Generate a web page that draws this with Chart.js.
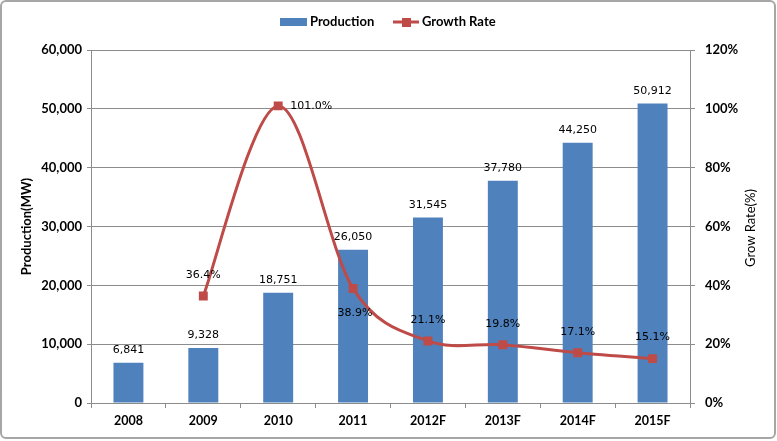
<!DOCTYPE html>
<html>
<head>
<meta charset="utf-8">
<script src="https://cdn.jsdelivr.net/npm/chart.js@4"></script>
<style>
  html,body{margin:0;padding:0;background:#fff;}
  #wrap{width:777px;height:441px;position:relative;}
</style>
</head>
<body>
<div id="wrap"><canvas id="c" width="777" height="441"></canvas></div>
<script>
const categories = ['2008','2009','2010','2011','2012F','2013F','2014F','2015F'];
const production = [6841, 9328, 18751, 26050, 31545, 37780, 44250, 50912];
const growthRate = [null, 36.4, 101.0, 38.9, 21.1, 19.8, 17.1, 15.1];
const leftTicks = [0, 10000, 20000, 30000, 40000, 50000, 60000];
const rightTicks = [0, 20, 40, 60, 80, 100, 120];

// label placement styles for growth labels
const growthLabelPos = ['above','above','right','below','above','above','above','above'];

const BAR = '#4F81BD';
const LINE = '#BE4B48';
const GRID = '#8C8C8C';
const TICKFONT = {family: 'Lato', weight: 'bold', size: 13};

// Excel-like smoothing: uniform Catmull-Rom control points from the scaled points
const smoothing = {
  id: 'smoothing',
  beforeDatasetDraw(chart, args) {
    const meta = args.meta;
    if (meta.type !== 'line') return;
    const pts = meta.data.filter(p => !p.skip);
    const k = 1 / 6;
    for (let i = 0; i < pts.length; i++) {
      const p = pts[i];
      const prev = pts[i - 1] || p;
      const next = pts[i + 1] || p;
      const dx = (next.x - prev.x) * k, dy = (next.y - prev.y) * k;
      p.cp1x = p.x - dx; p.cp1y = p.y - dy;
      p.cp2x = p.x + dx; p.cp2y = p.y + dy;
    }
    meta.dataset._pointsUpdated = true;
    meta.dataset._path = undefined;
  }
};

const decor = {
  id: 'decor',
  beforeDraw(chart) {
    const ctx = chart.ctx;
    ctx.save();
    ctx.fillStyle = '#fff';
    ctx.fillRect(0, 0, chart.width, chart.height);
    ctx.restore();
  },
  afterDatasetsDraw(chart) {
    const ctx = chart.ctx;
    ctx.save();
    ctx.font = '11px "DejaVu Sans"';
    ctx.fillStyle = '#000';
    ctx.textAlign = 'center';
    ctx.textBaseline = 'middle';
    const bm = chart.getDatasetMeta(0);
    bm.data.forEach((el, i) => {
      ctx.fillText(production[i].toLocaleString('en-US'), el.x, el.y - 12.5);
    });
    const lm = chart.getDatasetMeta(1);
    lm.data.forEach((el, i) => {
      const v = growthRate[i];
      if (v === null) return;
      const t = v.toFixed(1) + '%';
      const pos = growthLabelPos[i];
      if (pos === 'right') {
        ctx.textAlign = 'left';
        ctx.fillText(t, el.x + 12, el.y);
      } else if (pos === 'below') {
        ctx.textAlign = 'center';
        ctx.fillText(t, el.x + 2, el.y + 25);
      } else {
        ctx.textAlign = 'center';
        ctx.fillText(t, el.x, el.y - 21);
      }
    });
    ctx.restore();
  },
  afterDraw(chart) {
    const ctx = chart.ctx;
    ctx.save();
    ctx.fillStyle = BAR;
    ctx.fillRect(280, 18, 27, 8);
    ctx.strokeStyle = LINE;
    ctx.lineWidth = 3;
    ctx.beginPath(); ctx.moveTo(393, 22); ctx.lineTo(419, 22); ctx.stroke();
    ctx.fillStyle = LINE;
    ctx.fillRect(402, 18, 9, 9);
    ctx.fillStyle = '#000';
    ctx.font = 'bold 13px Lato';
    ctx.textAlign = 'left';
    ctx.textBaseline = 'middle';
    ctx.fillText('Production', 310, 22);
    ctx.fillText('Growth Rate', 422, 22);
    ctx.save();
    ctx.translate(751, 228);
    ctx.rotate(-Math.PI / 2);
    ctx.textAlign = 'center';
    ctx.font = '13px Lato';
    ctx.fillText('Grow Rate(%)', 0, 0);
    ctx.restore();
    ctx.strokeStyle = '#A6A6A6';
    ctx.lineWidth = 2;
    ctx.beginPath();
    ctx.roundRect(1, 1, 774, 437, 5);
    ctx.stroke();
    ctx.restore();
  }
};

new Chart(document.getElementById('c'), {
  data: {
    labels: categories,
    datasets: [
      {
        type: 'bar', label: 'Production', data: production,
        backgroundColor: BAR, yAxisID: 'y', order: 1,
        barPercentage: 0.4, categoryPercentage: 1.0
      },
      {
        type: 'line', label: 'Growth Rate', data: growthRate,
        borderColor: LINE, backgroundColor: LINE, borderWidth: 3,
        pointStyle: 'rect', pointRadius: 6.3, pointBorderWidth: 0,
        pointBackgroundColor: LINE, tension: 0.4,
        yAxisID: 'y1', order: 0, spanGaps: false
      }
    ]
  },
  options: {
    responsive: false,
    animation: false,
    layout: {padding: {top: 50, left: 0, right: 0, bottom: 0}},
    plugins: {legend: {display: false}, tooltip: {enabled: false}},
    scales: {
      x: {
        offset: true,
        grid: {offset: true, drawOnChartArea: false, tickLength: 5, color: GRID},
        border: {display: true, color: GRID},
        ticks: {font: {family: 'Lato', weight: 'bold', size: 12.5}, color: '#000', padding: 5},
        afterFit(s) { s.height = 38; }
      },
      y: {
        position: 'left', min: 0, max: 60000,
        afterBuildTicks(s) { s.ticks = leftTicks.map(v => ({value: v})); },
        grid: {color: GRID, tickLength: 4},
        border: {display: true, color: GRID},
        ticks: {font: TICKFONT, color: '#000', padding: 5,
          callback: v => v.toLocaleString('en-US')},
        title: {display: true, text: 'Production(MW)', font: TICKFONT, color: '#000',
          padding: {top: 19, bottom: 0}},
        afterFit(s) { s.width = 91; }
      },
      y1: {
        position: 'right', min: 0, max: 120,
        afterBuildTicks(s) { s.ticks = rightTicks.map(v => ({value: v})); },
        grid: {drawOnChartArea: false, color: GRID, tickLength: 5},
        border: {display: true, color: GRID},
        ticks: {font: TICKFONT, color: '#000', padding: 10, callback: v => v + '%'},
        afterFit(s) { s.width = 87; }
      }
    }
  },
  plugins: [smoothing, decor]
});
</script>
</body>
</html>
